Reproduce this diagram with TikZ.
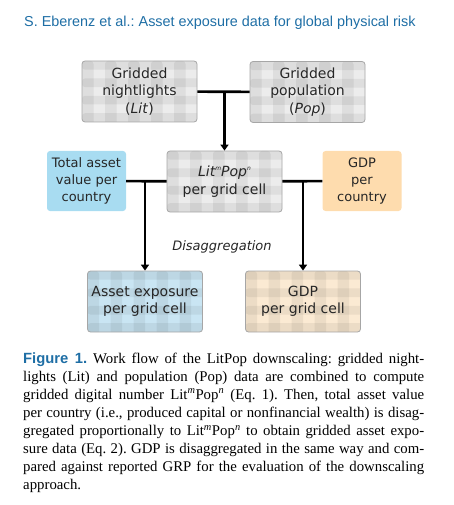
\documentclass[tikz,border=0pt]{standalone}
\usepackage{fontspec}
\setmainfont{Liberation Serif}
\newfontfamily\diagfont{DejaVu Sans}
\newfontfamily\headfont{Liberation Sans}
\usetikzlibrary{arrows.meta}
\definecolor{headblue}{RGB}{30,110,165}
\definecolor{assetblue}{RGB}{168,220,241}
\definecolor{gdporange}{RGB}{254,220,174}
\definecolor{cellgray}{RGB}{236,236,236}
\definecolor{cellblue}{RGB}{201,229,243}
\definecolor{cellbeige}{RGB}{251,234,211}
\newcommand{\capline}[1]{\hbox to 401pt{#1}}
\newcommand{\smallexp}[1]{\raisebox{0.8ex}{\fontsize{6}{6}\selectfont#1}}
\frenchspacing
\begin{document}
\begin{tikzpicture}[x=1pt,y=-1pt,
  every node/.style={font=\diagfont\fontsize{14}{17.5}\selectfont, text=black!85},
  box/.style={draw=black!35, line width=0.8pt, rounded corners=3pt, minimum width=115pt, minimum height=61pt, align=center, inner sep=0pt},
  checked/.style={box, fill=#1, path picture={
    \foreach \i in {0,...,5}
      \fill[black, opacity=0.06] ([xshift=\i*23pt]path picture bounding box.north west) rectangle ++(11.5pt,-80pt);
    \foreach \j in {0,...,3}
      \fill[black, opacity=0.06] ([yshift=-\j*17.4pt]path picture bounding box.north west) rectangle ++(130pt,-8.7pt);
  }},
  total/.style={fill=#1, rounded corners=3pt, minimum width=79pt, minimum height=60pt, align=center, inner sep=0pt, font=\diagfont\fontsize{13}{17}\selectfont},
  conn/.style={line width=2.6pt, black},
  arr/.style={conn, -{Triangle[length=6pt,width=8pt]}}]
\useasboundingbox (0,0) rectangle (454,505);
\node[anchor=base west, inner sep=0pt, font=\headfont\fontsize{14.4}{16}\selectfont, text=headblue] (header) at (24,27) {S. Eberenz et al.: Asset exposure data for global physical risk};
\node[checked=cellgray] (lit) at (139.5,91.5) {Gridded\\nightlights\\(\textit{Lit})};
\node[checked=cellgray] (pop) at (307.5,92) {Gridded\\population\\(\textit{Pop})};
\node[checked=cellgray] (litpop) at (224.5,181.5) {\textit{Lit\smallexp{m}Pop\smallexp{n}}\\per grid cell};
\node[total=assetblue] (asset) at (86.5,181) {Total asset\\value per\\country};
\node[total=gdporange] (gdp) at (362,181) {GDP\\per\\country};
\node[checked=cellblue] (expo) at (145,301.5) {Asset exposure\\per grid cell};
\node[checked=cellbeige] (gdpcell) at (303,301.5) {GDP\\per grid cell};
\node[font=\diagfont\itshape\fontsize{13}{14}\selectfont] (disagg) at (222,247) {Disaggregation};
\draw[conn] (lit) -- (pop);
\draw[arr] (lit.east -| litpop.north) -- (litpop.north);
\draw[conn] (asset) -- (litpop);
\draw[conn] (litpop) -- (gdp);
\draw[arr] (asset.east -| expo.north) -- (expo.north);
\draw[arr] (gdp.west -| gdpcell.north) -- (gdpcell.north);
\node[anchor=base west, inner sep=0pt, text=black, font=\rmfamily\fontsize{14.8}{18.1}\selectfont] (caption) at (23,363) {\vtop{%
\capline{{\headfont\bfseries\color{headblue}Figure 1.} Work flow of the LitPop downscaling: gridded night-}
\capline{lights (Lit) and population (Pop) data are combined to compute}
\capline{gridded digital number Lit\textsuperscript{\textit{m}}Pop\textsuperscript{\textit{n}} (Eq. 1). Then, total asset value}
\capline{per country (i.e., produced capital or nonfinancial wealth) is disag-}
\capline{gregated proportionally to Lit\textsuperscript{\textit{m}}Pop\textsuperscript{\textit{n}} to obtain gridded asset expo-}
\capline{sure data (Eq. 2). GDP is disaggregated in the same way and com-}
\capline{pared against reported GRP for the evaluation of the downscaling}
\hbox{approach.}}};
\end{tikzpicture}
\end{document}
